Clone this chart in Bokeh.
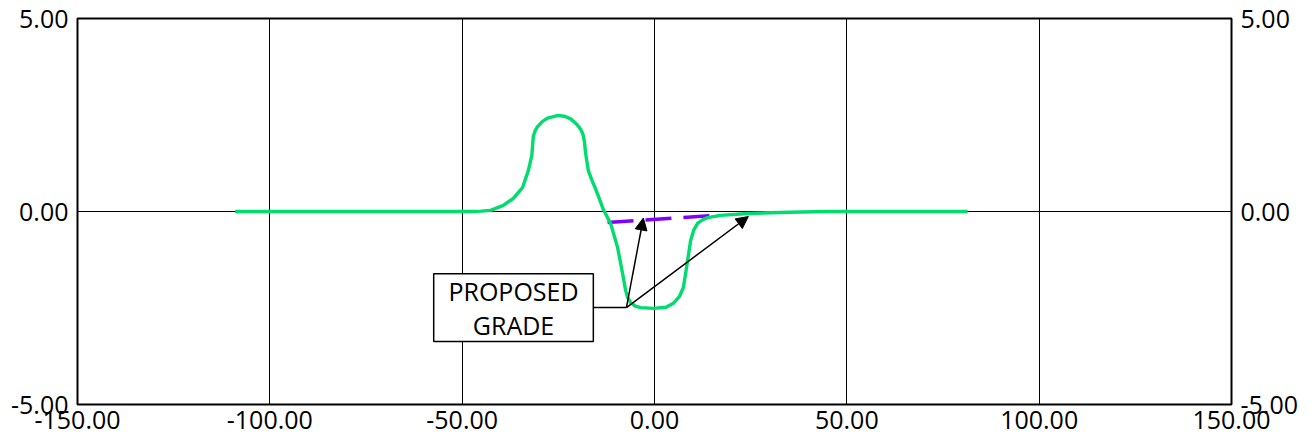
from bokeh.plotting import figure
from bokeh.models import (FixedTicker, NumeralTickFormatter, LinearAxis, Arrow,
                          NormalHead, Range1d)
from bokeh.core.properties import value
from bokeh.embed import file_html
from bokeh.resources import INLINE

# ---- data ----
x_ticks = [-150, -100, -50, 0, 50, 100, 150]
y_ticks = [-5, 0, 5]

ground_x = [-109, -47.8, -45.0, -42.6, -39.3, -36.7, -34.3, -32.8, -31.9, -31.5,
            -31.0, -30.4, -29.2, -27.8, -25.0, -23.2, -21.8, -20.2, -19.2, -18.6, -18.2,
            -17.9, -17.2, -16.3, -15.3, -14.3,
            -13.3, -11.4, -9.6, -8.1, -7.5, -7.0, -6.2, -5.0, -3.6, -0.3, 3.0,
            4.9, 6.5, 7.5, 8.1, 8.6, 9.4, 10.2, 11.2, 12.4, 13.8, 17.2, 24.2, 35.0,
            45.0, 81.4]
ground_y = [0.0, 0.0, 0.01, 0.03, 0.16, 0.34, 0.62, 1.06, 1.45, 1.95,
            2.1, 2.2, 2.33, 2.42, 2.49, 2.46, 2.40, 2.26, 2.13, 2.0, 1.8,
            1.50, 1.06, 0.82, 0.58, 0.32,
            0.05, -0.31, -0.93, -1.71, -2.05, -2.22, -2.36, -2.45, -2.49, -2.51, -2.48,
            -2.38, -2.2, -1.97, -1.6, -1.27, -0.75, -0.48, -0.31, -0.22, -0.16, -0.10, -0.05, -0.02,
            0.0, 0.0]

grade_x = [-12.2, 16.0]
grade_y = [-0.285, -0.10]

label_lines = ["PROPOSED", "GRADE"]
label_box = dict(left=-57.4, right=-15.9, top=-1.61, bottom=-3.37)
label_text_y = [-2.05, -2.93]
leader_x = [-15.9, -7.3]
leader_y = [-2.49, -2.49]
arrow_targets_x = [-2.9, 24.4]
arrow_targets_y = [-0.17, -0.13]

FONT = "Open Sans"

p = figure(frame_width=1154, frame_height=386,
           x_range=Range1d(-150, 150), y_range=Range1d(-5, 5),
           output_backend="svg", toolbar_location=None,
           min_border_left=77, min_border_top=18, min_border_right=81,
           min_border_bottom=34,
           background_fill_color="white", border_fill_color="white")

p.outline_line_color = "black"
p.outline_line_width = 2
p.outline_line_alpha = 1

p.xaxis.ticker = FixedTicker(ticks=x_ticks)
p.yaxis.ticker = FixedTicker(ticks=y_ticks)
p.xaxis.formatter = NumeralTickFormatter(format="0.00")
p.yaxis.formatter = NumeralTickFormatter(format="0.00")

right_axis = LinearAxis(ticker=FixedTicker(ticks=y_ticks),
                        formatter=NumeralTickFormatter(format="0.00"))
p.add_layout(right_axis, "right")

for ax in p.axis:
    ax.axis_line_color = None
    ax.major_tick_line_color = None
    ax.minor_tick_line_color = None
    ax.major_tick_out = 0
    ax.major_tick_in = 0
    ax.major_label_text_font = FONT
    ax.major_label_text_font_size = "25px"
    ax.major_label_text_color = "black"
    ax.major_label_standoff = 9
p.xaxis.major_label_standoff = 6

p.xgrid.ticker = FixedTicker(ticks=x_ticks)
p.ygrid.ticker = FixedTicker(ticks=y_ticks)
for g in [p.xgrid[0], p.ygrid[0]]:
    g.grid_line_color = "black"
    g.grid_line_width = 1
    g.grid_line_alpha = 1

# proposed grade (dashed)
p.line(grade_x, grade_y, line_color="#8000ff", line_width=3.5, line_dash="26 12")
# ground profile
p.line(ground_x, ground_y, line_color="#00dc6e", line_width=3.4, line_join="round")

# callout box
p.quad(left=[label_box["left"]], right=[label_box["right"]],
       top=[label_box["top"]], bottom=[label_box["bottom"]],
       fill_color="white", line_color="black", line_width=1.5)
p.text(x=[(label_box["left"] + label_box["right"]) / 2] * 2, y=label_text_y,
       text=label_lines, text_align="center", text_baseline="middle",
       text_font=value(FONT), text_font_size="25px", text_color="black")
p.line(leader_x, leader_y, line_color="black", line_width=1.5)
for tx, ty in zip(arrow_targets_x, arrow_targets_y):
    p.add_layout(Arrow(end=NormalHead(size=12, fill_color="black", line_color="black"),
                       x_start=leader_x[-1], y_start=leader_y[-1], x_end=tx, y_end=ty,
                       line_color="black", line_width=1.5))

open("out.html", "w").write(file_html(p, INLINE))
